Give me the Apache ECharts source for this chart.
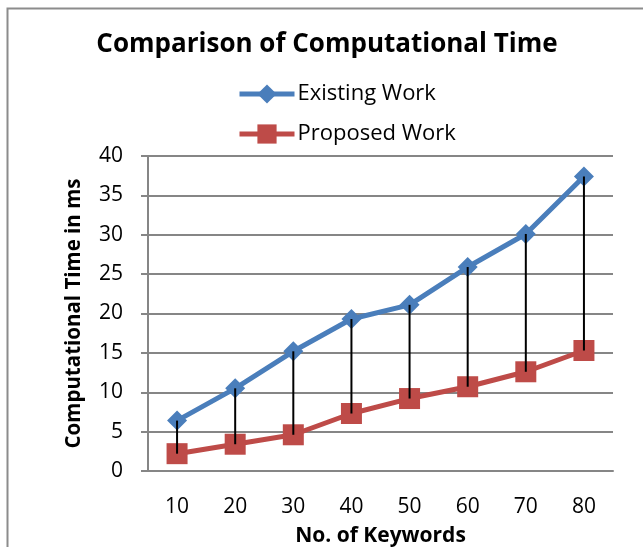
<!DOCTYPE html>
<html><head><meta charset="utf-8">
<script src="https://cdn.jsdelivr.net/npm/echarts@6/dist/echarts.min.js"></script>
<style>html,body{margin:0;padding:0;background:#fff}#c{width:643px;height:547px}</style>
</head><body><div id="c"></div>
<script>
const categories = ['10','20','30','40','50','60','70','80'];
const existingWork = [6.4, 10.5, 15.2, 19.3, 21.1, 25.9, 30.1, 37.4];
const proposedWork = [2.2, 3.4, 4.6, 7.3, 9.2, 10.7, 12.6, 15.3];
const yTicks = [0, 5, 10, 15, 20, 25, 30, 35, 40];

const font = '"Open Sans", "Liberation Sans", sans-serif';
const chart = echarts.init(document.getElementById('c'), null, {renderer: 'canvas'});
const rangeData = categories.map((c, i) => [i, existingWork[i], proposedWork[i]]);

chart.setOption({
  animation: false,
  backgroundColor: '#fff',
  graphic: [{
    type: 'rect', left: 5, top: 6, shape: {x: 0, y: 0, width: 700, height: 600},
    style: {fill: 'none', stroke: '#8c8c8c', lineWidth: 2}, z: -1
  }],
  title: {
    text: 'Comparison of Computational Time',
    left: 327, top: 32, textAlign: 'center', padding: 0,
    textStyle: {fontFamily: font, fontWeight: 'bold', fontSize: 26, color: '#000'}
  },
  legend: {
    orient: 'vertical', left: 237, top: 83, itemGap: 18, padding: 0,
    itemWidth: 55, itemHeight: 24,
    lineStyle: {width: 5},
    textStyle: {fontFamily: font, fontSize: 22, color: '#000', padding: [0, 0, 0, -2]},
    data: ['Existing Work', 'Proposed Work']
  },
  grid: {left: 148, top: 156, right: 30, bottom: 76, containLabel: false, outerBoundsMode: 'none'},
  xAxis: {
    type: 'category', data: categories, boundaryGap: true,
    name: 'No. of Keywords', nameLocation: 'middle', nameGap: 55,
    nameTextStyle: {fontFamily: font, fontWeight: 'bold', fontSize: 21, color: '#000'},
    axisLine: {lineStyle: {color: '#868686', width: 2}},
    axisTick: {show: false},
    axisLabel: {fontFamily: font, fontSize: 21, color: '#000', margin: 26}
  },
  yAxis: {
    type: 'value', min: yTicks[0], max: yTicks[yTicks.length - 1], interval: 5,
    name: 'Computational Time in ms', nameLocation: 'middle', nameGap: 63,
    nameTextStyle: {fontFamily: font, fontWeight: 'bold', fontSize: 20.5, color: '#000'},
    axisLine: {show: true, lineStyle: {color: '#868686', width: 2}},
    axisTick: {show: true, length: 7, lineStyle: {color: '#868686', width: 2}},
    axisLabel: {fontFamily: font, fontSize: 21, color: '#000', margin: 25},
    splitLine: {lineStyle: {color: '#868686', width: 2}}
  },
  series: [
    {
      name: 'Existing Work', type: 'line', data: existingWork,
      symbol: 'diamond', symbolSize: 20, z: 3,
      lineStyle: {color: '#4a7ebb', width: 5},
      itemStyle: {color: '#4a7ebb'}
    },
    {
      name: 'Proposed Work', type: 'line', data: proposedWork,
      symbol: 'rect', symbolSize: 21, z: 3,
      lineStyle: {color: '#be4b48', width: 5},
      itemStyle: {color: '#be4b48'}
    },
    {
      type: 'custom', z: 5, silent: true,
      data: rangeData,
      encode: {x: 0, y: [1, 2]},
      renderItem: function (params, api) {
        const p1 = api.coord([api.value(0), api.value(1)]);
        const p2 = api.coord([api.value(0), api.value(2)]);
        return {type: 'line', shape: {x1: p1[0], y1: p1[1], x2: p2[0], y2: p2[1]},
                style: {stroke: '#000', lineWidth: 2}};
      }
    }
  ]
});
</script></body></html>
